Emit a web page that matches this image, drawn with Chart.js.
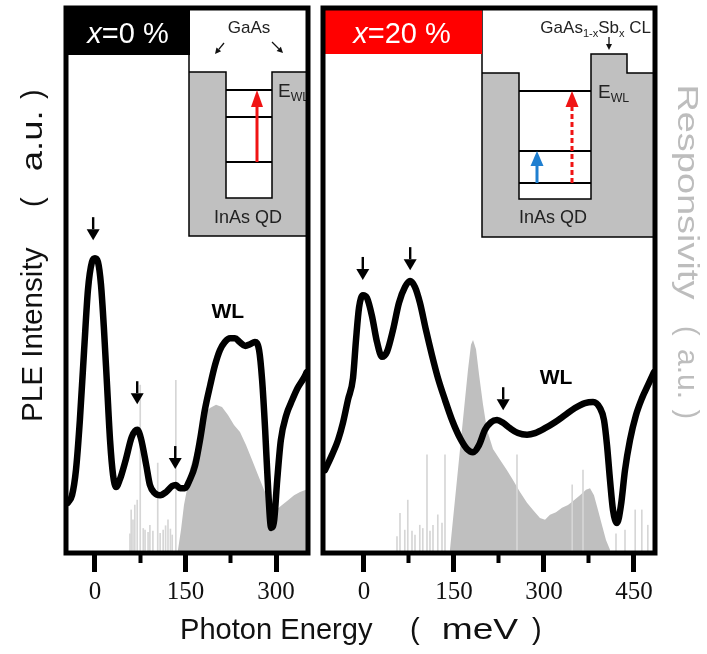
<!DOCTYPE html>
<html>
<head>
<meta charset="utf-8">
<script src="https://cdn.jsdelivr.net/npm/chart.js@4.4.1/dist/chart.umd.min.js"></script>
<style>
  body { margin: 0; background: #fff; }
  #wrap { position: relative; width: 707px; height: 654px; }
  canvas { position: absolute; left: 0; top: 0; }
</style>
</head>
<body>
<div id="wrap">
  <canvas id="left" width="707" height="654"></canvas>
  <canvas id="right" width="707" height="654"></canvas>
</div>
<script>
// ---- x = 0 % ----
const energy0 = [-45, -38, -31.5, -25, -18, -11.6, -5, 0, 5, 10, 15, 20, 25, 30, 35, 41, 51, 61, 70, 76, 85, 91, 99, 108, 118, 128, 134, 141, 149, 157, 166, 174, 182, 191, 199, 207, 215, 224, 232, 240, 249, 257, 265, 272, 277, 282, 287, 292, 297, 302, 308, 317, 327, 336, 346, 351];
const ple0 = [9.2, 10.6, 15.2, 24.4, 37.2, 48.3, 53.4, 54.1, 53.4, 49.2, 40.9, 30.8, 20.7, 14.3, 12.1, 13.4, 17.1, 21.3, 22.6, 21.1, 16.1, 12.5, 11.0, 10.6, 11.2, 12.3, 12.5, 11.9, 11.9, 13.4, 16.1, 20.7, 26.2, 30.8, 34.5, 37.2, 38.7, 39.4, 39.4, 38.7, 38.0, 38.3, 38.7, 37.2, 31.7, 22.6, 11.6, 4.6, 6.1, 13.4, 20.7, 25.3, 28.1, 30.3, 32.1, 33.2];
const respE0 = [136, 137.6, 142.5, 147.5, 152.5, 157.5, 164.1, 170.8, 177.4, 184.0, 190.6, 200.6, 210.5, 220.4, 230.4, 240.3, 250.3, 260.2, 270.2, 280.1, 290.1, 300.0, 310.0, 319.9, 329.9, 339.8, 349.7, 353];
const resp0 = [0, 0.6, 4.2, 8.8, 11.7, 15.4, 18.0, 20.7, 23.5, 25.9, 26.6, 27.2, 26.8, 25.3, 23.5, 22.2, 19.8, 17.1, 14.3, 11.6, 9.2, 7.9, 8.8, 9.7, 10.6, 11.2, 11.6, 11.6];
const spikeE0 = [58, 60, 63, 66, 70, 75, 80, 83, 88, 91, 96, 104, 108, 113, 117, 121, 125, 128, 134];
const spike0 = [3.5, 7.9, 6.1, 8.8, 9.7, 30.8, 4.5, 4.2, 3.8, 5.1, 4.0, 16.5, 3.6, 4.2, 5.0, 6.1, 4.4, 3.3, 31.7];
const majorTicks0 = [0, 150, 300];
const minorTicks0 = [75, 225];
const arrowE0 = [-3, 70, 133];
const arrowTip0 = [57.4, 27.3, 15.4];

// ---- x = 20 % ----
const energy20 = [-65, -53.3, -43.3, -35, -26.7, -18.3, -13.3, -8.3, -1.7, 5, 13.3, 21.7, 30, 38.3, 48.3, 58.3, 68.3, 76.7, 85, 93.3, 103.3, 113.3, 123.3, 135, 146.7, 160, 171.7, 181.7, 191.7, 201.7, 211.7, 221.7, 231.7, 243.3, 256.7, 271.7, 285, 301.7, 318.3, 335, 351.7, 368.3, 381.7, 393.3, 400, 405, 410, 415, 421.7, 428.3, 435, 443.3, 453.3, 463.3, 473.3, 483.3];
const ple20 = [15.2, 18.0, 20.7, 23.9, 28.1, 32.1, 39.1, 45.0, 47.3, 46.8, 43.5, 38.7, 36.0, 36.9, 40.9, 45.9, 48.8, 49.9, 48.8, 45.9, 40.9, 36.3, 32.1, 28.1, 24.4, 21.1, 19.1, 18.5, 19.8, 22.6, 24.0, 24.4, 23.9, 22.9, 22.0, 21.7, 22.0, 22.9, 24.0, 25.3, 26.6, 27.5, 27.7, 26.6, 24.4, 19.8, 13.4, 7.9, 5.5, 8.8, 15.2, 20.7, 25.3, 28.4, 30.8, 33.2];
const respE20 = [143.3, 148.3, 153.3, 158.3, 163.3, 168.3, 173.3, 178.3, 181.7, 186.7, 191.7, 198.3, 205, 215, 226.7, 238.3, 248.3, 260, 271.7, 281.7, 293.3, 301.7, 310, 320, 330, 340, 350, 360, 370, 376.7, 383.3, 390, 396.7, 403.3, 410];
const resp20 = [0.6, 6.1, 11.6, 17.1, 22.6, 28.1, 33.6, 38.2, 39.1, 37.4, 32.8, 27.3, 22.6, 19.1, 17.1, 15.2, 13.4, 11.2, 9.2, 7.9, 6.4, 6.1, 7.0, 7.5, 8.3, 8.8, 9.7, 10.6, 11.6, 11.9, 10.6, 7.9, 5.1, 2.4, 0.6];
const spikeE20 = [55, 60, 68, 73, 80, 85, 93, 98, 105, 110, 115, 123, 130, 135, 255, 347, 365, 420, 435, 452, 463, 473];
const spike20 = [3.0, 7.3, 4.2, 9.7, 4.0, 3.3, 5.1, 4.5, 18.0, 4.0, 5.1, 7.0, 5.5, 18.0, 18.0, 12.5, 15.2, 3.5, 4.2, 7.9, 7.9, 5.1];
const majorTicks20 = [0, 150, 300, 450];
const minorTicks20 = [75, 225, 375];
const arrowE20 = [-2, 77, 232];
const arrowTip20 = [50.1, 51.9, 26.2];

const GRAY = '#bfbfbf';
const SANS = '"Liberation Sans", Arial, sans-serif';

function pts(xs, ys) { return xs.map((x, i) => ({x: x, y: ys[i]})); }

function polyline(ctx, p) {
  ctx.beginPath();
  p.forEach(([x, y], i) => i ? ctx.lineTo(x, y) : ctx.moveTo(x, y));
  ctx.stroke();
}

function drawArrow(ctx, x1, y1, x2, y2, color, lw, headW, headL, dash) {
  const ang = Math.atan2(y2 - y1, x2 - x1);
  const bx = x2 - headL * Math.cos(ang), by = y2 - headL * Math.sin(ang);
  ctx.save();
  ctx.strokeStyle = color; ctx.fillStyle = color; ctx.lineWidth = lw;
  if (dash) ctx.setLineDash(dash);
  ctx.beginPath(); ctx.moveTo(x1, y1); ctx.lineTo(bx, by); ctx.stroke();
  ctx.setLineDash([]);
  ctx.beginPath();
  ctx.moveTo(x2, y2);
  ctx.lineTo(bx + headW / 2 * Math.sin(ang), by - headW / 2 * Math.cos(ang));
  ctx.lineTo(bx - headW / 2 * Math.sin(ang), by + headW / 2 * Math.cos(ang));
  ctx.closePath(); ctx.fill();
  ctx.restore();
}

// text with subscripts: parts = [[text, isSub], ...]
function richText(ctx, parts, x, y, size, align) {
  const widths = parts.map(([t, sub]) => {
    ctx.font = (sub ? size * 0.65 : size) + 'px ' + SANS;
    return ctx.measureText(t).width;
  });
  const total = widths.reduce((a, b) => a + b, 0);
  let cx = align === 'right' ? x - total : align === 'center' ? x - total / 2 : x;
  ctx.textAlign = 'left'; ctx.textBaseline = 'alphabetic';
  parts.forEach(([t, sub], i) => {
    ctx.font = (sub ? size * 0.65 : size) + 'px ' + SANS;
    ctx.fillText(t, cx, sub ? y + size * 0.22 : y);
    cx += widths[i];
  });
}

// text placed in a slot of len pixels starting at (x0, y0) along rot, baseline through (x0, y0);
// fit = stretch the ink to the slot, otherwise centre it
function segText(ctx, text, x0, y0, rot, size, color, len, fit) {
  ctx.save();
  ctx.font = size + 'px ' + SANS;
  ctx.fillStyle = color; ctx.textAlign = 'left'; ctx.textBaseline = 'alphabetic';
  const m = ctx.measureText(text);
  const vis = m.actualBoundingBoxLeft + m.actualBoundingBoxRight;
  ctx.translate(x0, y0); ctx.rotate(rot);
  if (fit) {
    ctx.scale(len / vis, 1);
    ctx.fillText(text, m.actualBoundingBoxLeft, 0);
  } else {
    ctx.fillText(text, m.actualBoundingBoxLeft + (len - vis) / 2, 0);
  }
  ctx.restore();
}

function insetLeft(ctx, a) {
  const L = a.left, T = a.top, R = a.right;
  const bx = L + 123, by = T + 228;
  ctx.fillStyle = '#fff'; ctx.fillRect(bx, T, R - bx, by - T);
  const edge = [[bx, T + 64], [L + 160, T + 64], [L + 160, T + 190], [L + 206, T + 190], [L + 206, T + 64], [R, T + 64]];
  ctx.fillStyle = '#c0c0c0';
  ctx.beginPath();
  edge.forEach(([x, y], i) => i ? ctx.lineTo(x, y) : ctx.moveTo(x, y));
  ctx.lineTo(R, by); ctx.lineTo(bx, by); ctx.closePath(); ctx.fill();
  ctx.strokeStyle = '#000'; ctx.lineWidth = 1.5;
  polyline(ctx, edge);
  polyline(ctx, [[bx, T], [bx, by], [R, by]]);
  ctx.lineWidth = 2;
  [82, 109, 154].forEach(y => polyline(ctx, [[L + 160, T + y], [L + 206, T + y]]));
  drawArrow(ctx, L + 191, T + 154, L + 191, T + 82, '#f01414', 3, 12, 17);
  drawArrow(ctx, L + 158, T + 35, L + 149, T + 46, '#111', 1.3, 6, 6);
  drawArrow(ctx, L + 206, T + 34, L + 217, T + 45, '#111', 1.3, 6, 6);
  ctx.fillStyle = '#222';
  richText(ctx, [['GaAs', false]], L + 183, T + 25, 17, 'center');
  richText(ctx, [['E', false], ['WL', true]], L + 212, T + 89, 19, 'left');
  richText(ctx, [['InAs QD', false]], L + 182, T + 215, 18, 'center');
}

function insetRight(ctx, a) {
  const L = a.left, T = a.top, R = a.right;
  const bx = L + 159, by = T + 229;
  ctx.fillStyle = '#fff'; ctx.fillRect(bx, T, R - bx, by - T);
  const edge = [[bx, T + 65], [L + 196, T + 65], [L + 196, T + 191], [L + 268, T + 191], [L + 268, T + 46], [L + 304, T + 46], [L + 304, T + 65], [R, T + 65]];
  ctx.fillStyle = '#c0c0c0';
  ctx.beginPath();
  edge.forEach(([x, y], i) => i ? ctx.lineTo(x, y) : ctx.moveTo(x, y));
  ctx.lineTo(R, by); ctx.lineTo(bx, by); ctx.closePath(); ctx.fill();
  ctx.strokeStyle = '#000'; ctx.lineWidth = 1.5;
  polyline(ctx, edge);
  polyline(ctx, [[bx, T], [bx, by], [R, by]]);
  ctx.lineWidth = 2;
  [83, 143, 175].forEach(y => polyline(ctx, [[L + 196, T + y], [L + 268, T + y]]));
  drawArrow(ctx, L + 214, T + 175, L + 214, T + 143, '#1f7fd0', 3, 13, 15);
  drawArrow(ctx, L + 249, T + 175, L + 249, T + 83, '#f01414', 3, 13, 16, [5, 3]);
  drawArrow(ctx, L + 286, T + 29, L + 286, T + 42, '#111', 1.3, 6, 6);
  ctx.fillStyle = '#222';
  richText(ctx, [['GaAs', false], ['1-x', true], ['Sb', false], ['x', true], [' CL', false]], L + 328, T + 25, 17, 'right');
  richText(ctx, [['E', false], ['WL', true]], L + 275, T + 90, 19, 'left');
  richText(ctx, [['InAs QD', false]], L + 230, T + 215, 18, 'center');
}

function drawTitles(ctx) {
  const up = -Math.PI / 2, down = Math.PI / 2, ink = '#111', soft = '#bdbdbd';
  // shared x title
  segText(ctx, 'Photon Energy', 182, 639, 0, 29, ink, 191, true);
  segText(ctx, '(', 408, 639, 0, 29, ink, 15, false);
  segText(ctx, 'meV', 443, 639, 0, 29, ink, 76, true);
  segText(ctx, ')', 530, 639, 0, 29, ink, 12, false);
  // left y title, reads bottom to top
  segText(ctx, 'PLE Intensity', 42, 420, up, 29, ink, 173, true);
  segText(ctx, '(', 42, 210, up, 29, ink, 17, false);
  segText(ctx, 'a.u.', 42, 170, up, 29, ink, 57, true);
  segText(ctx, ')', 42, 103, up, 29, ink, 16, false);
  // right y title, reads top to bottom
  segText(ctx, 'Responsivity', 678, 87, down, 29, soft, 213, true);
  segText(ctx, '(', 678, 323, down, 29, soft, 17, false);
  segText(ctx, 'a.u.', 678, 350, down, 29, soft, 47, true);
  segText(ctx, ')', 678, 407, down, 29, soft, 13, false);
}

function makePanel(id, cfg) {
  const decor = {
    id: 'decor',
    afterDraw(chart) {
      const {ctx, chartArea: a, scales} = chart;
      ctx.save();
      cfg.arrowE.forEach((e, i) => {
        const x = scales.x.getPixelForValue(e), y = scales.y.getPixelForValue(cfg.arrowTip[i]);
        drawArrow(ctx, x, y - 23, x, y, '#000', 2.4, 13, 11);
      });
      ctx.fillStyle = '#000';
      ctx.font = 'bold 21px ' + SANS;
      ctx.textAlign = 'center'; ctx.textBaseline = 'middle';
      ctx.fillText('WL', scales.x.getPixelForValue(cfg.wl[0]), scales.y.getPixelForValue(cfg.wl[1]));
      cfg.inset(ctx, a);
      // header label
      ctx.fillStyle = cfg.headColor;
      ctx.fillRect(a.left, a.top, cfg.headW, cfg.headH);
      ctx.fillStyle = '#fff';
      ctx.font = 'italic 29px ' + SANS;
      const w1 = ctx.measureText('x').width;
      ctx.font = '29px ' + SANS;
      const w2 = ctx.measureText(cfg.head).width;
      const sx = a.left + cfg.headCx - (w1 + w2) / 2;
      ctx.textAlign = 'left'; ctx.textBaseline = 'alphabetic';
      ctx.font = 'italic 29px ' + SANS;
      ctx.fillText('x', sx, 43);
      ctx.font = '29px ' + SANS;
      ctx.fillText(cfg.head, sx + w1, 43);
      // panel frame
      ctx.strokeStyle = '#000'; ctx.lineWidth = 5;
      ctx.strokeRect(a.left, a.top, a.right - a.left, a.bottom - a.top);
      if (cfg.titles) drawTitles(ctx);
      ctx.restore();
    }
  };

  return new Chart(document.getElementById(id), {
    type: 'line',
    data: {
      datasets: [
        {
          data: pts(cfg.energy, cfg.ple), borderColor: '#000', borderWidth: 6.5,
          pointRadius: 0, cubicInterpolationMode: 'monotone', fill: false,
          borderCapStyle: 'round', borderJoinStyle: 'round', order: 0
        },
        {
          type: 'bar', data: pts(cfg.spikeE, cfg.spike), backgroundColor: '#d6d6d6',
          barThickness: 1, order: 1
        },
        {
          data: pts(cfg.respE, cfg.resp), borderWidth: 0, borderColor: 'rgba(0,0,0,0)',
          backgroundColor: GRAY, pointRadius: 0, tension: 0, fill: 'origin', order: 2
        }
      ]
    },
    options: {
      responsive: false,
      animation: false,
      events: [],
      layout: {padding: {left: cfg.padL, right: cfg.padR, top: 8, bottom: 0}},
      plugins: {legend: {display: false}, tooltip: {enabled: false}},
      scales: {
        x: {
          type: 'linear', position: 'bottom', min: cfg.min, max: cfg.max, weight: 1, offset: false,
          afterBuildTicks: s => { s.ticks = cfg.major.map(v => ({value: v})); },
          afterFit: s => { s.height = 101; },
          border: {display: false},
          grid: {offset: false, drawOnChartArea: false, drawTicks: true, tickLength: 19, tickWidth: 5, tickColor: '#000'},
          ticks: {color: '#111', padding: 5, font: {family: '"Liberation Serif", "Times New Roman", serif', size: 25}}
        },
        xm: {
          type: 'linear', position: 'bottom', min: cfg.min, max: cfg.max, weight: 0, offset: false,
          afterBuildTicks: s => { s.ticks = cfg.minor.map(v => ({value: v})); },
          afterFit: s => { s.height = 0; },
          border: {display: false},
          grid: {offset: false, drawOnChartArea: false, drawTicks: true, tickLength: 10, tickWidth: 4, tickColor: '#000'},
          ticks: {display: false}
        },
        y: {min: 0, max: 100, display: false}
      }
    },
    plugins: [decor]
  });
}

makePanel('left', {
  energy: energy0, ple: ple0, respE: respE0, resp: resp0, spikeE: spikeE0, spike: spike0,
  major: majorTicks0, minor: minorTicks0, min: -48, max: 353, padL: 66, padR: 707 - 308,
  arrowE: arrowE0, arrowTip: arrowTip0, wl: [220, 44.2],
  inset: insetLeft, headColor: '#000', headW: 124, headH: 47, headCx: 62, head: '=0 %', titles: false
});

makePanel('right', {
  energy: energy20, ple: ple20, respE: respE20, resp: resp20, spikeE: spikeE20, spike: spike20,
  major: majorTicks20, minor: minorTicks20, min: -68.3, max: 485, padL: 323, padR: 52,
  arrowE: arrowE20, arrowTip: arrowTip20, wl: [320, 32.1],
  inset: insetRight, headColor: '#ff0000', headW: 159, headH: 46, headCx: 79, head: '=20 %', titles: true
});
</script>
</body>
</html>
